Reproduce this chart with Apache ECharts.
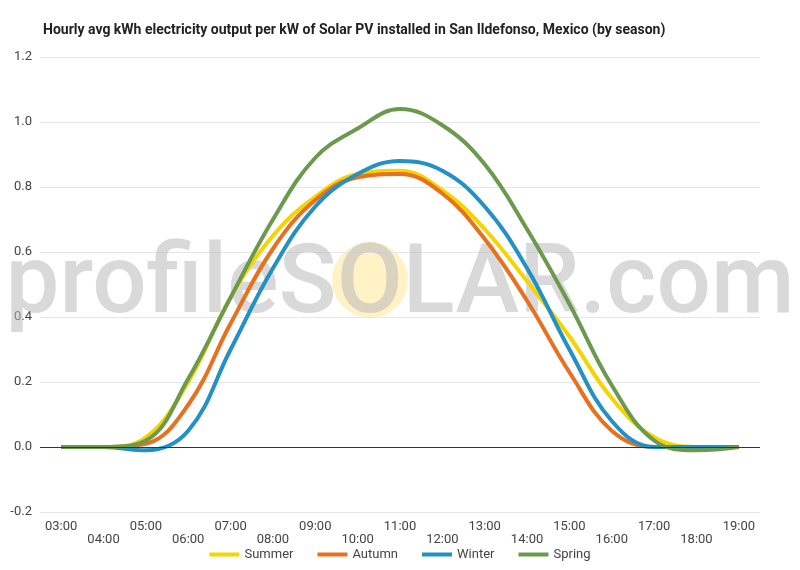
<!DOCTYPE html>
<html>
<head>
<meta charset="utf-8">
<script src="https://cdn.jsdelivr.net/npm/echarts@6/dist/echarts.min.js"></script>
<style>html,body{margin:0;padding:0;background:#fff}#chart{width:800px;height:570px}</style>
</head>
<body>
<div id="chart"></div>
<script>
var hours = ['03:00','04:00','05:00','06:00','07:00','08:00','09:00','10:00','11:00','12:00','13:00','14:00','15:00','16:00','17:00','18:00','19:00'];
var summer = [0, 0, 0.03, 0.2, 0.46, 0.65, 0.77, 0.84, 0.85, 0.79, 0.67, 0.51, 0.34, 0.15, 0.03, 0, 0];
var autumn = [0, 0, 0.01, 0.13, 0.38, 0.61, 0.76, 0.83, 0.84, 0.78, 0.64, 0.45, 0.23, 0.05, 0, 0, 0];
var winter = [0, 0, -0.01, 0.05, 0.3, 0.55, 0.74, 0.84, 0.88, 0.85, 0.74, 0.55, 0.3, 0.08, 0, 0, 0];
var spring = [0, 0, 0.02, 0.21, 0.46, 0.7, 0.89, 0.98, 1.04, 0.99, 0.87, 0.67, 0.44, 0.19, 0.02, -0.01, 0];
var yTicks = { min: -0.2, max: 1.2, step: 0.2 };

var chart = echarts.init(document.getElementById('chart'));

function line(name, data, color) {
    return {
        name: name, type: 'line', data: data, smooth: 0.4, symbol: 'none',
        lineStyle: { width: 4, color: color }, itemStyle: { color: color }, z: 3
    };
}

chart.setOption({
    animation: false,
    title: {
        text: 'Hourly avg kWh electricity output per kW of Solar PV installed in San Ildefonso, Mexico (by season)',
        left: 38, top: 18,
        textStyle: { fontFamily: 'Roboto', fontSize: 14, fontWeight: 'bold', color: '#222' }
    },
    graphic: [
        { type: 'circle', shape: { cx: 370, cy: 280, r: 38 }, style: { fill: 'rgba(255,238,180,0.75)' }, z: 0 },
        { type: 'text', x: 400, y: 288, z: 1, style: {
            text: 'profileSOLAR.com', fontFamily: 'Roboto', fontSize: 96, fontWeight: 500,
            fill: 'rgba(185,185,185,0.55)', align: 'center', verticalAlign: 'middle' } }
    ],
    legend: {
        bottom: 4, itemWidth: 30, itemHeight: 4, icon: 'rect', itemGap: 24,
        textStyle: { fontFamily: 'Roboto', fontSize: 13, color: '#444' },
        data: ['Summer', 'Autumn', 'Winter', 'Spring']
    },
    grid: { left: 40, right: 40, top: 57, bottom: 58, containLabel: false },
    xAxis: {
        type: 'category', data: hours, boundaryGap: true,
        axisLine: { show: false }, axisTick: { show: false },
        axisLabel: {
            interval: 0, fontFamily: 'Roboto', fontSize: 13, color: '#444',
            formatter: function (v, i) { return i % 2 ? '\n' + v : v; }
        }
    },
    yAxis: {
        type: 'value', min: yTicks.min, max: yTicks.max, interval: yTicks.step,
        axisLabel: { fontFamily: 'Roboto', fontSize: 13, color: '#444',
            formatter: function (v) { return v.toFixed(1); } },
        splitLine: { lineStyle: { color: '#e6e6e6' } }
    },
    series: [
        line('Summer', summer, '#f5d400'),
        line('Autumn', autumn, '#e8711f'),
        line('Winter', winter, '#2391c4'),
        line('Spring', spring, '#6b9a4e'),
        { type: 'line', data: [], markLine: { silent: true, symbol: 'none', label: { show: false },
            lineStyle: { color: '#333', width: 1, type: 'solid' }, data: [{ yAxis: 0 }] } }
    ]
});
</script>
</body>
</html>
